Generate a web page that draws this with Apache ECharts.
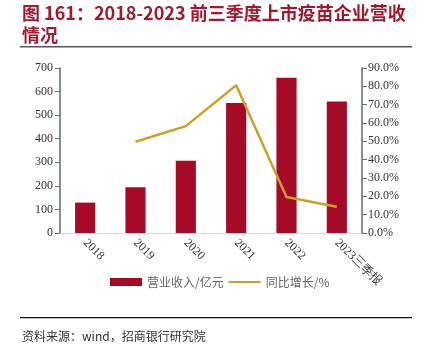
<!DOCTYPE html>
<html><head><meta charset="utf-8">
<script src="https://cdn.jsdelivr.net/npm/echarts@6/dist/echarts.min.js"></script>
<style>html,body{margin:0;padding:0;background:#fff}#c{width:421px;height:358px}</style>
</head><body><div id="c"></div>
<script>
const categories = ['2018','2019','2020','2021','2022','2023三季报'];
const revenue = [129, 194, 307, 552, 659, 558];
const growth = [null, 49.8, 58.3, 80.6, 19.6, 14.3];
const leftTicks = [0,100,200,300,400,500,600,700];
const rightTicks = [0,10,20,30,40,50,60,70,80,90];

const chart = echarts.init(document.getElementById('c'));
const serif = '"Liberation Serif","DejaVu Serif",serif';
const cjk = '"Noto Sans CJK SC",sans-serif';
chart.setOption({
  animation:false,
  grid:{left:60,right:59,top:68,bottom:125,containLabel:false},
  graphic:[
    {type:'text',left:22,top:4,style:{text:'图 161：2018-2023 前三季度上市疫苗企业营收',fill:'#a6172d',font:'bold 18px '+cjk}},
    {type:'text',left:22,top:26,style:{text:'情况',fill:'#a6172d',font:'bold 18px '+cjk}},
    {type:'rect',shape:{x:20,y:46,width:392,height:1.5},style:{fill:'#555'}},
    {type:'rect',shape:{x:20,y:317,width:392,height:1.2},style:{fill:'#111'}},
    {type:'text',left:22,top:330,style:{text:'资料来源：wind，招商银行研究院',fill:'#333',font:'12px '+cjk}}
  ],
  legend:{
    left:105, top:271, itemWidth:32, itemHeight:8, itemGap:4,
    textStyle:{color:'#666',fontSize:12,fontFamily:cjk},
    data:[{name:'营业收入/亿元',icon:'rect'},{name:'同比增长/%',itemStyle:{opacity:0}}]
  },
  xAxis:{
    type:'category', data:categories,
    axisLine:{lineStyle:{color:'#d9d9d9',width:1}},
    axisTick:{show:false},
    axisLabel:{rotate:-45,interval:0,color:'#333',fontSize:12,fontFamily:serif,margin:8}
  },
  yAxis:[
    {type:'value',min:0,max:700,interval:100,
     axisLine:{show:true,lineStyle:{color:'#5d6b7f',width:1.5}},
     axisTick:{show:true,length:5,lineStyle:{color:'#5d6b7f'}},
     splitLine:{show:false},
     axisLabel:{color:'#333',fontSize:12,fontFamily:serif,margin:7,
       formatter:v=>leftTicks.includes(v)?String(v):''}},
    {type:'value',min:0,max:90,interval:10,position:'right',
     axisLine:{show:true,lineStyle:{color:'#5d6b7f',width:1.5}},
     axisTick:{show:true,length:5,lineStyle:{color:'#5d6b7f'}},
     splitLine:{show:false},
     axisLabel:{color:'#333',fontSize:12,fontFamily:serif,margin:6,
       formatter:v=>rightTicks.includes(v)?v.toFixed(1)+'%':''}}
  ],
  series:[
    {name:'营业收入/亿元',type:'bar',data:revenue,barWidth:'40%',itemStyle:{color:'#a50a26'}},
    {name:'同比增长/%',type:'line',yAxisIndex:1,data:growth,symbol:'none',
     lineStyle:{color:'#c9a227',width:2.5},itemStyle:{color:'#c9a227'}}
  ]
});
</script></body></html>
